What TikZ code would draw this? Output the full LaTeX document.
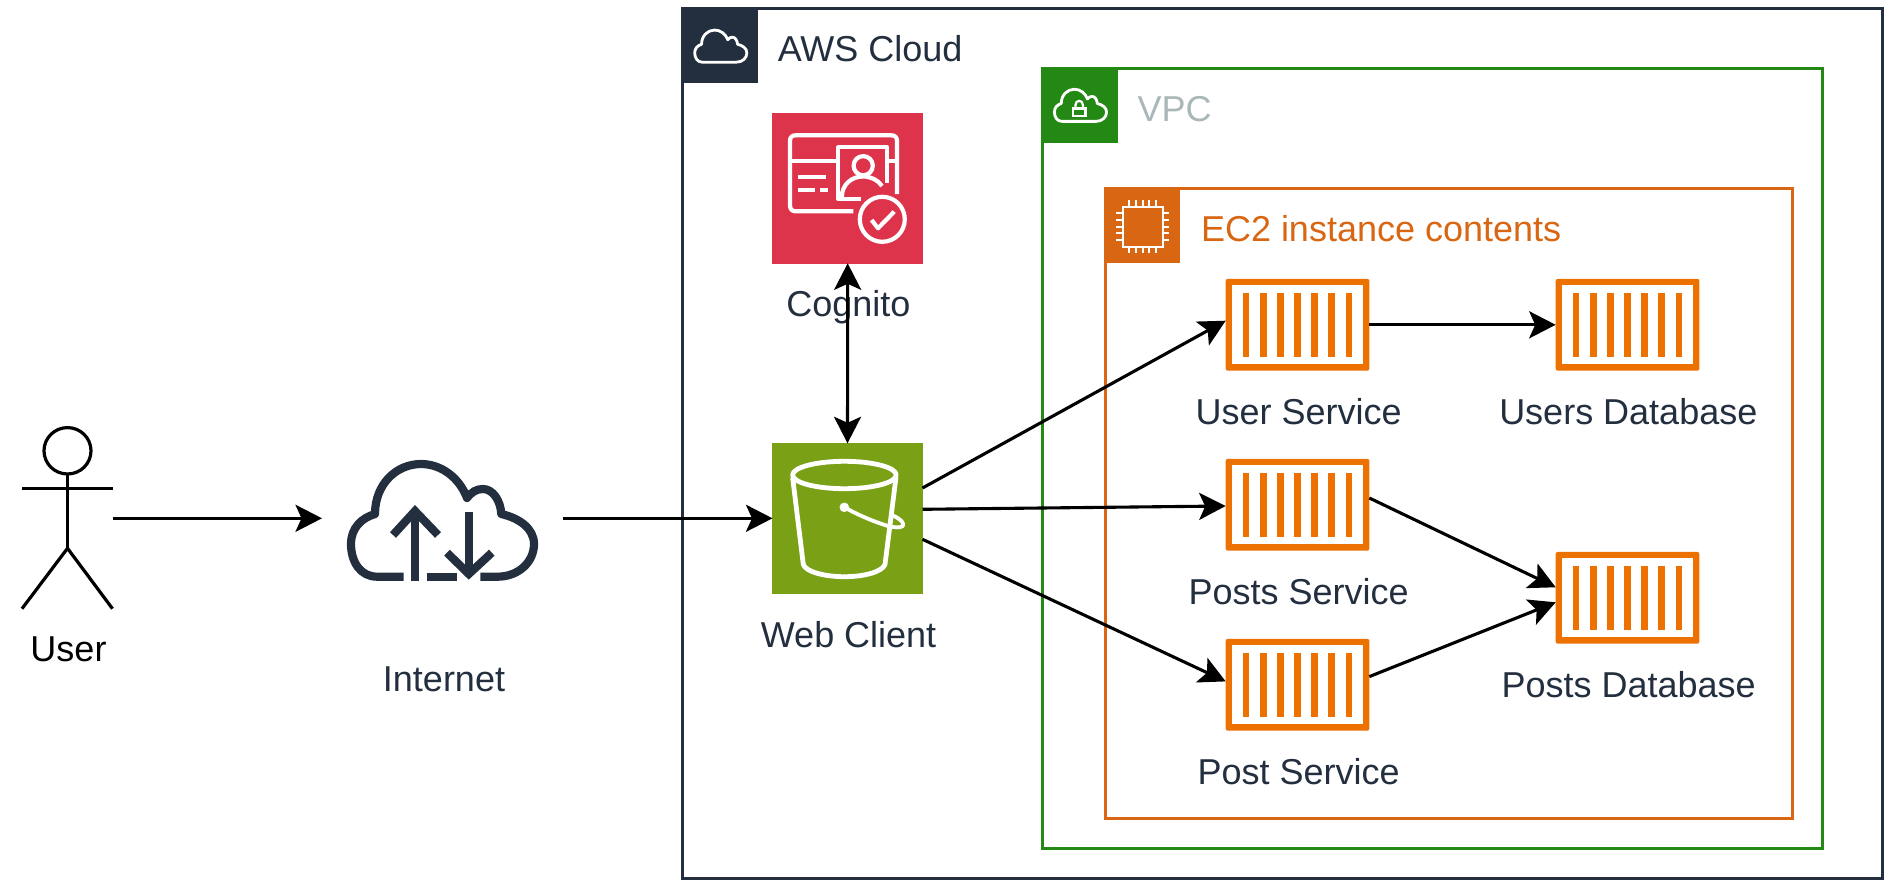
\documentclass[tikz,border=0pt]{standalone}
\usepackage{fontspec}
\setmainfont{Liberation Sans}
\usetikzlibrary{arrows.meta}
\definecolor{awsdark}{HTML}{232F3E}
\definecolor{vpcgreen}{HTML}{248814}
\definecolor{vpctext}{HTML}{AAB7B8}
\definecolor{ecorange}{HTML}{D86613}
\definecolor{cogred}{HTML}{DD344C}
\definecolor{sgreen}{HTML}{7AA116}
\definecolor{contorange}{HTML}{ED7100}
\newcommand{\cloudoutline}{(-38.8,56.7) -- (-65.5,56.7)
  .. controls (-82,56.7) and (-91.5,42) .. (-91.5,24)
  .. controls (-91.5,8) and (-81,-2) .. (-67.5,-6)
  .. controls (-67.5,-36) and (-46,-56) .. (-21.5,-56)
  .. controls (-1,-56) and (17,-42) .. (24.5,-22)
  .. controls (29,-28) and (34,-31) .. (40.5,-31)
  .. controls (50,-31) and (58,-20) .. (58.8,-6)
  .. controls (76,-2) and (91.5,8) .. (91.5,24)
  .. controls (91.5,42) and (76,56.7) .. (55,56.7)
  -- (37.8,56.7)}
\tikzset{
  every node/.style={inner sep=0pt,outer sep=0pt},
  lbl/.style={anchor=base,font=\fontsize{36}{40}\selectfont,text=awsdark},
  lblw/.style={anchor=base west,font=\fontsize{36}{40}\selectfont},
  groupbox/.style={draw,line width=3pt},
  headbox/.style={anchor=north west,minimum size=75pt},
  servicebox/.style={draw=cogred,fill=cogred,minimum size=150pt,line width=0pt},
  crate/.style={fill=contorange,minimum width=143.6pt,minimum height=91.7pt,rounded corners=2pt},
  conn/.style={line width=3.1pt,-{Stealth[length=26.5pt,width=27pt,inset=6pt]}},
  connboth/.style={line width=3.1pt,{Stealth[length=26.5pt,width=27pt,inset=6pt]}-{Stealth[length=26.5pt,width=27pt,inset=6pt]}},
  iconline/.style={draw=white,line width=4.2pt,line cap=butt,line join=round},
}
\begin{document}
\begin{tikzpicture}[x=1pt,y=-1pt]
\useasboundingbox (0,0) rectangle (1891,888);
% groups
\node[groupbox,draw=awsdark,minimum width=1200pt,minimum height=870pt] (aws) at (1282.6,443.3) {};
\node[groupbox,draw=vpcgreen,minimum width=780pt,minimum height=780pt] (vpc) at (1432.7,458.3) {};
\node[groupbox,draw=ecorange,minimum width=687.4pt,minimum height=630pt] (ec2) at (1449,503.3) {};
\node[headbox,fill=awsdark] (awshead) at (aws.north west) {};
\node[headbox,fill=vpcgreen] (vpchead) at (vpc.north west) {};
\node[headbox,fill=ecorange] (ec2head) at (ec2.north west) {};
\node[lblw,text=awsdark] (awslbl) at (777.8,61.5) {AWS Cloud};
\node[lblw,text=vpctext] (vpclbl) at (1137.6,121.7) {VPC};
\node[lblw,text=ecorange] (ec2lbl) at (1201,241.7) {EC2 instance contents};
% header icons
\begin{scope}[shift={(720.8,46)},scale=0.285]
  \draw[white,line width=2.8pt,line join=round] \cloudoutline -- cycle;
\end{scope}
\begin{scope}[shift={(1080.5,105.2)},scale=0.285]
  \draw[white,line width=2.8pt,line join=round] \cloudoutline -- cycle;
\end{scope}
\draw[white,line width=2.4pt] (1072.8,108.5) rectangle (1085.6,116.2);
\draw[white,line width=2.2pt] (1075.5,108.5) -- (1075.5,105) .. controls (1075.5,99.5) and (1082.9,99.5) .. (1082.9,105) -- (1082.9,108.5);
\draw[white,line width=2pt] (1122.7,206.7) rectangle (1162.7,246.7);
\foreach \d in {-26.6,-13.3,0,13.3,26.6}{
  \draw[white,line width=1.9pt] (1142.7+\d/2,200) -- (1142.7+\d/2,206.7);
  \draw[white,line width=1.9pt] (1142.7+\d/2,246.7) -- (1142.7+\d/2,253.4);
  \draw[white,line width=1.9pt] (1116,226.7+\d/2) -- (1122.7,226.7+\d/2);
  \draw[white,line width=1.9pt] (1162.7,226.7+\d/2) -- (1169.4,226.7+\d/2);
}
% Cognito
\node[lbl] (coglbl) at (848.3,316) {Cognito};
\node[servicebox] (cog) at (847.7,188.3) {};
\draw[iconline] (897,194) -- (897,141) .. controls (897,137) and (895,135.3) .. (891,135.3) -- (796,135.3) .. controls (792,135.3) and (790,137) .. (790,141) -- (790,205) .. controls (790,209.5) and (792,211.3) .. (796,211.3) -- (853.3,211.3);
\draw[iconline] (790,160.7) -- (836,160.7);
\draw[iconline] (888,160.7) -- (897,160.7);
\draw[iconline] (861,199) -- (838.3,199) -- (838.3,147.3) -- (887,147.3) -- (887,183.3);
\draw[iconline] (863.2,165.7) circle (9.6);
\draw[iconline] (841.8,197) .. controls (842,184) and (852,176.5) .. (863,176.5) .. controls (871,176.5) and (878,180) .. (882,186);
\draw[iconline] (798.2,177.3) -- (825.7,177.3);
\draw[iconline] (798.2,190) -- (815,190);
\draw[iconline] (820,190) -- (827.6,190);
\draw[iconline] (882.3,219.3) circle (22.5);
\draw[iconline] (871.6,220) -- (878,228.3) -- (894.2,211.7);
% S3
\node[servicebox,draw=sgreen,fill=sgreen] (s3) at (847.5,518.3) {};
\node[lbl] (s3lbl) at (848.6,647.6) {Web Client};
\draw[iconline,line width=4.8pt] (844.4,475) ellipse (51.8 and 13.7);
\draw[iconline,line width=4.8pt] (792.6,477.3) -- (803.3,564.5) .. controls (806,572) and (825,576.7) .. (844.4,576.7) .. controls (864,576.7) and (882,572) .. (885,564.5) -- (896,477.3);
\fill[white] (844.3,507.3) circle (4.8);
\draw[iconline,line width=3.8pt] (844.3,507.3) .. controls (860,516) and (875,522) .. (888,526) .. controls (898,528.5) and (905,527.5) .. (903,523.5) .. controls (902,520.5) and (898,518) .. (893,515.5);
% Internet
\begin{scope}[shift={(442.5,520)}]
  \draw[awsdark,line width=8.2pt,line join=round] \cloudoutline;
\end{scope}
\node (net) at (442.5,518.3) [minimum width=193pt,minimum height=121pt] {};
\draw[awsdark,line width=8.2pt] (415,580.7) -- (415,516);
\draw[awsdark,line width=8.2pt,line join=miter] (393,535) -- (415,511) -- (438,535);
\draw[awsdark,line width=8.2pt] (426.7,576.7) -- (457.3,576.7);
\draw[awsdark,line width=8.2pt] (468.8,511.7) -- (468.8,570);
\draw[awsdark,line width=8.2pt,line join=miter] (447,552.7) -- (468.8,574) -- (491.8,552.7);
\node[lbl] (netlbl) at (444,691.7) {Internet};
% Actor
\draw[line width=3.2pt] (67.5,450.8) ellipse (23.5 and 23.2);
\draw[line width=3.2pt] (67.5,474) -- (67.5,548.3);
\draw[line width=3.2pt] (22,488.3) -- (112.5,488.3);
\draw[line width=3.2pt] (22,608.7) -- (67.5,548.3) -- (112.5,608.7);
\node (actor) at (67.3,518.3) [minimum width=90.5pt,minimum height=181pt] {};
\node[lbl,text=black] (userlbl) at (68.5,661) {User};
% containers
\node[crate] (usvc) at (1297.5,324.8) {};
\node[crate] (udb) at (1627.5,324.8) {};
\node[crate] (psvc) at (1297.5,504.8) {};
\node[crate] (pdb) at (1627.5,597.8) {};
\node[crate] (posvc) at (1297.5,684.8) {};
\foreach \c in {usvc,udb,psvc,pdb,posvc}{
  \fill[white] ([shift={(-65.5,-39.5)}]\c.center) rectangle ++(131,79);
  \foreach \i in {-3,...,3}{
    \fill[contorange] ([shift={(\i*17.17-3.4,-31.7)}]\c.center) rectangle ++(6.8,63.4);
  }
}
\node[lbl] (usvclbl) at (1298.7,424) {User Service};
\node[lbl] (udblbl) at (1628.3,424) {Users Database};
\node[lbl] (psvclbl) at (1298.7,604) {Posts Service};
\node[lbl] (pdblbl) at (1628.7,697.3) {Posts Database};
\node[lbl] (posvclbl) at (1298.7,784) {Post Service};
% connectors
\draw[conn] (actor.east) -- ([xshift=-24pt]net.west);
\draw[conn] ([xshift=24pt]net.east) -- (s3.west);
\draw[connboth] (cog.south) -- (s3.north);
\draw[conn] ([yshift=30.3pt]s3.east) -- ([yshift=4.1pt]usvc.west);
\draw[conn] ([yshift=9pt]s3.east) -- ([yshift=-1.2pt]psvc.west);
\draw[conn] ([yshift=-21pt]s3.east) -- ([yshift=3.4pt]posvc.west);
\draw[conn] (usvc.east) -- (udb.west);
\draw[conn] ([yshift=6.8pt]psvc.east) -- ([yshift=10.5pt]pdb.west);
\draw[conn] ([yshift=8.2pt]posvc.east) -- ([yshift=-4.5pt]pdb.west);
\end{tikzpicture}
\end{document}
